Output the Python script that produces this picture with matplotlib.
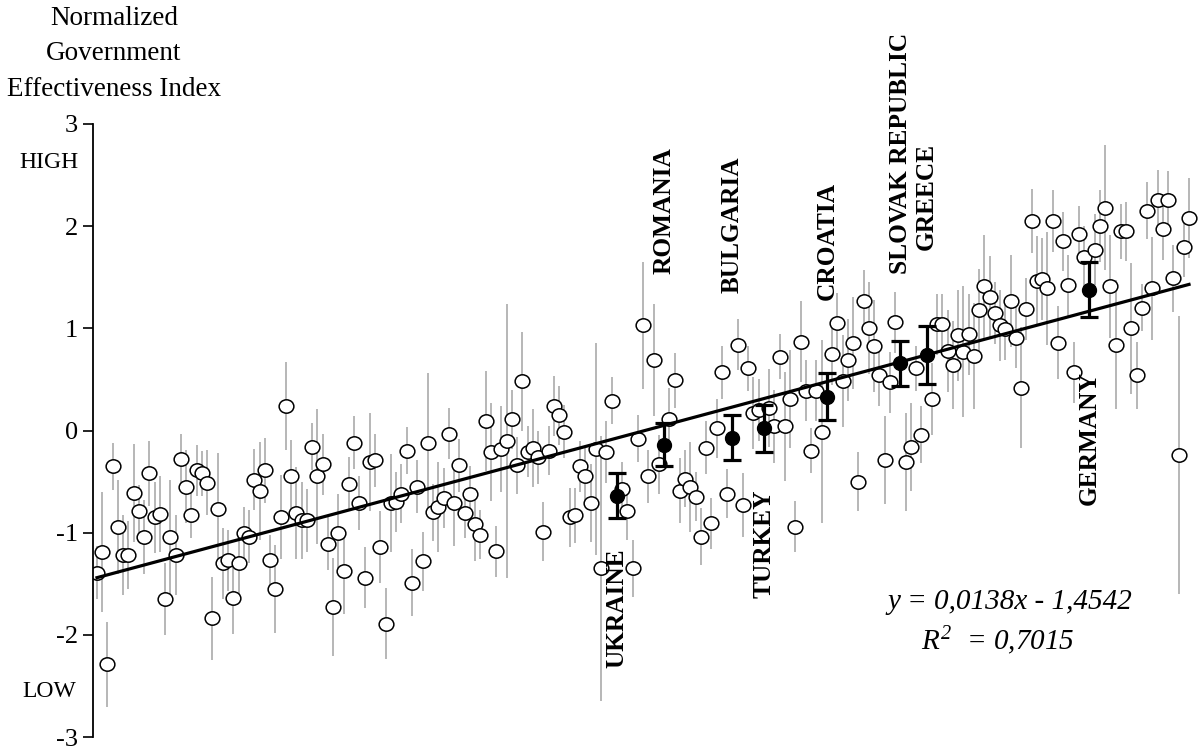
import numpy as np
import matplotlib.pyplot as plt
from matplotlib.path import Path
from matplotlib.transforms import Affine2D, blended_transform_factory

plt.rcParams['font.family'] = ['Liberation Serif', 'DejaVu Serif']
plt.rcParams['axes.unicode_minus'] = False
plt.rcParams['mathtext.fontset'] = 'custom'
plt.rcParams['mathtext.it'] = 'Liberation Serif:italic'
plt.rcParams['mathtext.rm'] = 'Liberation Serif:italic'

# normalized government effectiveness per country, in rank order (x = 1..N)
gov_eff = [
    -1.39, -1.19, -2.29, -0.35, -0.94, -1.22, -1.22, -0.61, -0.79, -1.04,
    -0.42, -0.85, -0.82, -1.65, -1.04, -1.22, -0.28, -0.55, -0.83, -0.39,
    -0.42, -0.51, -1.84, -0.77, -1.30, -1.27, -1.64, -1.30, -1.00, -1.04,
    -0.48, -0.59, -0.39, -1.27, -1.55, -0.85, 0.24, -0.45, -0.81, -0.88,
    -0.88, -0.16, -0.45, -0.33, -1.11, -1.73, -1.00, -1.38, -0.52, -0.12,
    -0.71, -1.44, -0.31, -0.29, -1.14, -1.89, -0.71, -0.70, -0.62, -0.20,
    -1.49, -0.55, -1.28, -0.12, -0.80, -0.75, -0.66, -0.03, -0.71, -0.34,
    -0.81, -0.62, -0.92, -1.02, 0.09, -0.21, -1.18, -0.18, -0.10, 0.11,
    -0.34, 0.48, -0.21, -0.17, -0.26, -0.99, -0.20, 0.24, 0.15, -0.01,
    -0.85, -0.83, -0.35, -0.45, -0.71, -0.18, -1.35, -0.21, 0.29, -0.64,
    -0.57, -0.79, -1.35, -0.08, 1.03, -0.45, 0.69, -0.33, -0.14, 0.11,
    0.49, -0.59, -0.47, -0.55, -0.65, -1.04, -0.17, -0.91, 0.02, 0.57,
    -0.62, -0.07, 0.84, -0.73, 0.61, 0.17, 0.20, 0.02, 0.22, 0.04,
    0.72, 0.04, 0.31, -0.94, 0.87, 0.39, -0.20, 0.39, -0.01, 0.33,
    0.75, 1.05, 0.48, 0.69, 0.86, -0.50, 1.27, 1.00, 0.83, 0.54,
    -0.29, 0.47, 1.06, 0.66, -0.31, -0.16, 0.61, -0.04, 0.74, 0.31,
    1.04, 1.04, 0.78, 0.64, 0.93, 0.77, 0.94, 0.73, 1.18, 1.41,
    1.31, 1.15, 1.03, 0.99, 1.27, 0.91, 0.42, 1.19, 2.05, 1.46,
    1.48, 1.39, 2.05, 0.86, 1.85, 1.42, 0.57, 1.92, 1.70, 1.38,
    1.77, 2.00, 2.18, 1.41, 0.84, 1.95, 1.95, 1.00, 0.54, 1.20,
    2.15, 1.39, 2.26, 1.97, 2.26, 1.49, -0.24, 1.80, 2.08,
]

# half-width of the confidence interval
gov_err = [
    0.26, 0.59, 0.42, 0.23, 0.46, 0.39, 0.33, 0.48, 0.26, 0.36,
    0.32, 0.35, 0.37, 0.35, 0.56, 0.39, 0.25, 0.36, 0.22, 0.25,
    0.22, 0.32, 0.41, 0.55, 0.35, 0.30, 0.35, 0.32, 0.25, 0.26,
    0.30, 0.48, 0.32, 0.25, 0.43, 0.41, 0.43, 0.36, 0.45, 0.38,
    0.31, 0.23, 0.66, 0.30, 0.26, 0.48, 0.38, 0.42, 0.26, 0.26,
    0.26, 0.30, 0.48, 0.26, 0.35, 0.35, 0.48, 0.29, 0.29, 0.23,
    0.33, 0.26, 0.29, 0.68, 0.28, 0.44, 0.29, 0.25, 0.42, 0.26,
    0.24, 0.27, 0.36, 0.24, 0.49, 0.48, 0.25, 0.42, 1.34, 0.29,
    0.28, 0.48, 0.25, 0.38, 0.26, 0.29, 0.24, 0.29, 0.29, 0.26,
    0.29, 0.27, 0.25, 0.29, 0.38, 1.04, 1.30, 0.30, 0.23, 0.22,
    0.26, 0.28, 0.28, 0.23, 0.62, 0.26, 0.55, 0.29, 0.21, 0.31,
    0.27, 0.32, 0.28, 0.44, 0.24, 0.28, 0.26, 0.25, 0.29, 0.26,
    0.24, 0.22, 0.25, 0.31, 0.22, 0.35, 0.30, 0.23, 0.38, 0.36,
    0.22, 0.53, 0.48, 0.25, 0.40, 0.30, 0.22, 0.30, 0.90, 0.23,
    0.30, 0.30, 0.45, 0.40, 0.45, 0.29, 0.30, 0.45, 0.45, 0.30,
    0.43, 0.30, 0.30, 0.22, 0.48, 0.43, 0.22, 0.28, 0.28, 0.35,
    0.30, 0.30, 0.40, 0.43, 0.45, 0.64, 0.40, 0.52, 0.40, 0.50,
    0.40, 0.30, 0.35, 0.30, 0.45, 0.30, 0.59, 0.30, 0.31, 0.44,
    0.40, 0.55, 0.30, 0.36, 0.29, 0.30, 0.30, 0.28, 0.30, 0.27,
    0.35, 0.35, 0.61, 0.50, 0.63, 0.27, 0.29, 0.64, 0.33, 0.23,
    0.28, 0.50, 0.29, 0.30, 0.28, 0.33, 1.36, 0.30, 0.39,
]

# highlighted countries (rank position in the series)
hl_rank = [100, 109, 122, 128, 140, 154, 159, 190]
hl_name = ['UKRAINE', 'ROMANIA', 'BULGARIA', 'TURKEY', 'CROATIA',
           'SLOVAK REPUBLIC', 'GREECE', 'GERMANY']

slope, intercept, r2 = 0.0138, -1.4542, 0.7015

y = np.array(gov_eff)
err = np.array(gov_err)
x = np.arange(1, len(y) + 1)
is_hl = np.isin(x, hl_rank)

W, H = 1199, 756
fig = plt.figure(figsize=(W / 100, H / 100), dpi=100)
ax = fig.add_axes([93 / W, 1 - 737 / H, (W - 93) / W, (737 - 124) / H])

# grey confidence bars + open (slightly oval) markers
ax.errorbar(x[~is_hl], y[~is_hl], yerr=err[~is_hl], fmt='none',
            ecolor='#a3a3a3', elinewidth=1.1, capsize=0, zorder=1)
oval = Path.unit_circle().transformed(Affine2D().scale(1.1, 1.0))
ax.plot(x[~is_hl], y[~is_hl], linestyle='none', marker=oval, markersize=10.6,
        markerfacecolor='white', markeredgecolor='black', markeredgewidth=1.1,
        zorder=2)

# linear trend
xl = np.array([x[0], x[-1]])
ax.plot(xl, slope * xl + intercept, color='black', lw=2.3, zorder=3)

# highlighted countries
ax.errorbar(x[is_hl], y[is_hl], yerr=err[is_hl], fmt='o', color='black',
            markersize=10, elinewidth=2.3, capsize=6.5, capthick=2.3, zorder=4)

# country labels (bottom of rotated text, data units)
label_bottom = [-2.32, 1.53, 1.35, -1.64, 1.28, 1.53, 1.77, -0.73]
for r, name, yb in zip(hl_rank, hl_name, label_bottom):
    ax.text(r, yb, name, rotation=90, ha='center', va='bottom',
            fontsize=18.3, fontweight='bold', zorder=5)

# axes styling
ax.set_xlim(0.24, 210.9)
ax.set_ylim(-3, 3)
ax.set_yticks(np.arange(-3, 4, 1))
ax.set_yticklabels([str(v) for v in range(-3, 4)], fontsize=19)
ax.set_xticks([])
for s in ['top', 'right', 'bottom']:
    ax.spines[s].set_visible(False)
ax.spines['left'].set_linewidth(1.3)
ax.tick_params(axis='y', direction='out', length=7, width=1.2, pad=4)
ax.patch.set_alpha(0)

# HIGH / LOW markers beside the axis
tr = blended_transform_factory(fig.transFigure, ax.transData)
ax.text(49 / W, 2.62, 'HIGH', transform=tr, ha='center', va='center', fontsize=17)
ax.text(49 / W, -2.55, 'LOW', transform=tr, ha='center', va='center', fontsize=17)

fig.text(114 / W, 1 - 6 / H, 'Normalized\nGovernment\nEffectiveness Index',
         ha='center', va='top', multialignment='center', fontsize=19.5,
         linespacing=1.55)

# trend equation
eq = f'y = {slope:.4f}x - {abs(intercept):.4f}'.replace('.', ',')
ax.text(0.829, 0.22, eq, transform=ax.transAxes, ha='center', va='center',
        fontsize=21, style='italic')
ax.text(0.818, 0.158, r'$R^{2}$  = ' + f'{r2:.4f}'.replace('.', ','),
        transform=ax.transAxes, ha='center', va='center', fontsize=21,
        style='italic')

fig.savefig('out.png', dpi=100)
